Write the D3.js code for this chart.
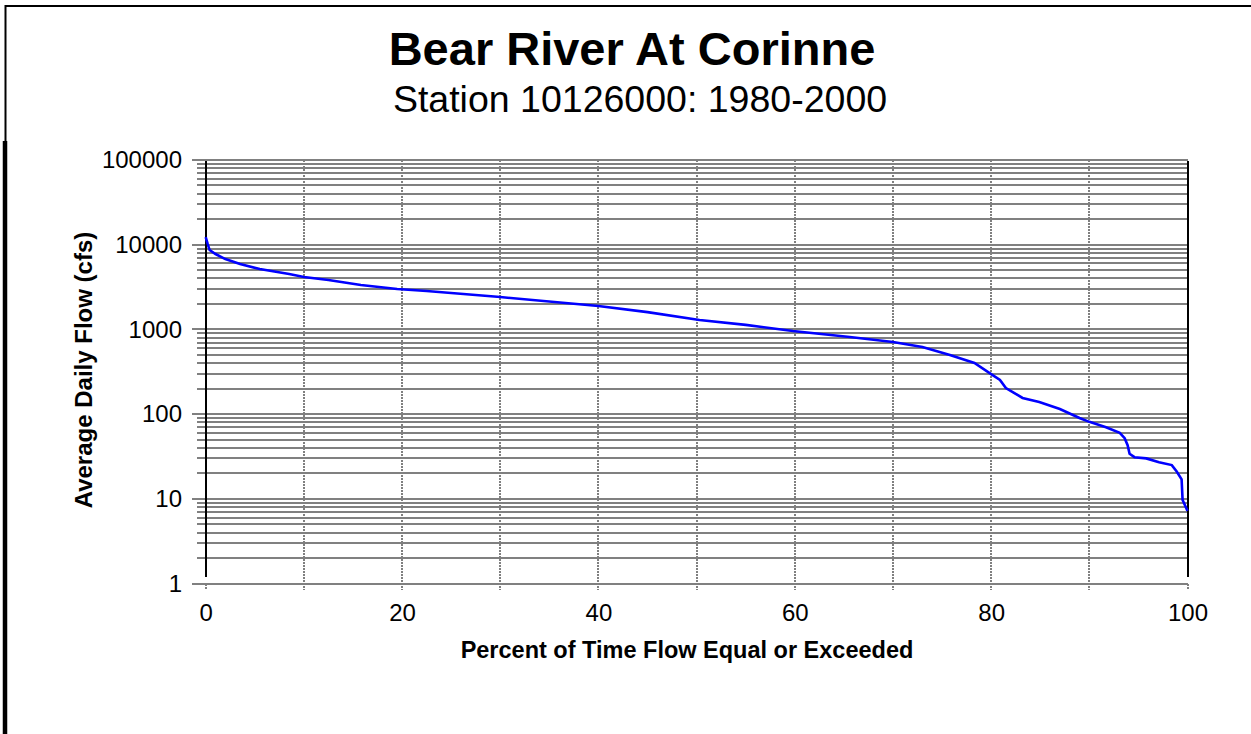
<!DOCTYPE html>
<html>
<head>
<meta charset="utf-8">
<script src="https://cdn.jsdelivr.net/npm/d3@7"></script>
<style>
  body { margin: 0; background: #fff; }
  text { font-family: Arial, "Liberation Sans", sans-serif; }
</style>
</head>
<body>
<div id="chart"></div>
<script>
// Flow duration curve
var percentExceeded = [0, 0.2, 0.4, 1.0, 2.0, 3.5, 5.5, 8.5, 10, 12.5, 15.8, 19.5, 22.5, 30, 40, 45,
  50.3, 55, 59.8, 65.6, 70, 73, 75.8, 78.3, 80, 80.9, 81.5, 82.2, 83.2, 84.9, 87, 89, 90, 91.7,
  93.1, 93.6, 93.9, 94.1, 94.6, 95.8, 97.1, 98.4, 98.9, 99.4, 99.5, 100];
var flowCfs = [12300, 10200, 8650, 7760, 6770, 5910, 5160, 4510, 4160, 3830, 3340, 3000, 2840, 2410, 1890, 1600,
  1290, 1130, 957, 813, 710, 620, 499, 402, 297, 253, 203, 182, 155, 139, 115, 90, 81, 70,
  60, 52, 43, 34, 31, 30, 27, 25, 21, 17, 9.7, 7.2];

var yTicks = [1, 10, 100, 1000, 10000, 100000];
var xTicks = [0, 20, 40, 60, 80, 100];
var xGrid = [10, 20, 30, 40, 50, 60, 70, 80, 90];

var titleText = "Bear River At Corinne";
var subtitleText = "Station 10126000: 1980-2000";
var xTitle = "Percent of Time Flow Equal or Exceeded";
var yTitle = "Average Daily Flow (cfs)";

var totalWidth = 1251, totalHeight = 734;
var plot = {left: 205.7, right: 1187.5, top: 160, bottom: 583.5};

var svg = d3.select("#chart").append("svg")
  .attr("width", totalWidth)
  .attr("height", totalHeight);

var x = d3.scaleLinear().domain([0, 100]).range([plot.left, plot.right]);
var y = d3.scaleLog().domain([1, 100000]).range([plot.bottom, plot.top]);

// outer frame (top + left edge)
svg.append("line").attr("x1", 5).attr("x2", totalWidth).attr("y1", 6).attr("y2", 6)
  .attr("stroke", "#000").attr("stroke-width", 2);
svg.append("line").attr("x1", 5.5).attr("x2", 5.5).attr("y1", 5).attr("y2", 141)
  .attr("stroke", "#000").attr("stroke-width", 2);
svg.append("line").attr("x1", 5).attr("x2", 5).attr("y1", 141).attr("y2", totalHeight)
  .attr("stroke", "#000").attr("stroke-width", 4.5);

// titles
svg.append("text")
  .attr("x", 632).attr("y", 65)
  .style("font-size", "47px").style("font-weight", "bold")
  .style("text-anchor", "middle")
  .text(titleText);
svg.append("text")
  .attr("x", 640).attr("y", 112)
  .style("font-size", "37.5px")
  .style("text-anchor", "middle")
  .text(subtitleText);

// horizontal grid: every 1..9 x decade
var minorVals = [];
for (var e = 0; e < 5; e++) {
  for (var m = 1; m < 10; m++) minorVals.push(m * Math.pow(10, e));
}
minorVals.push(100000);

svg.append("g").selectAll("line")
  .data(minorVals)
  .enter().append("line")
    .attr("x1", function(d) { return yTicks.indexOf(d) >= 0 ? 192 : 197; })
    .attr("x2", plot.right)
    .attr("y1", function(d) { return Math.round(y(d)); })
    .attr("y2", function(d) { return Math.round(y(d)); })
    .attr("stroke", "#808080")
    .attr("stroke-width", 2)
    .attr("shape-rendering", "crispEdges");

// vertical dashed grid + ticks
svg.append("g").selectAll("line")
  .data(xGrid)
  .enter().append("line")
    .attr("x1", function(d) { return Math.round(x(d)); })
    .attr("x2", function(d) { return Math.round(x(d)); })
    .attr("y1", plot.top)
    .attr("y2", 590)
    .attr("stroke", "#808080")
    .attr("stroke-width", 2)
    .attr("stroke-dasharray", "2,1")
    .attr("shape-rendering", "crispEdges");
svg.append("g").selectAll("line")
  .data([0, 100])
  .enter().append("line")
    .attr("x1", function(d) { return Math.round(x(d)); })
    .attr("x2", function(d) { return Math.round(x(d)); })
    .attr("y1", plot.bottom)
    .attr("y2", 590)
    .attr("stroke", "#808080")
    .attr("stroke-width", 2)
    .attr("stroke-dasharray", "2,1")
    .attr("shape-rendering", "crispEdges");

// black side lines of plot area
svg.append("g").selectAll("line")
  .data([0, 100])
  .enter().append("line")
    .attr("x1", function(d) { return Math.round(x(d)); })
    .attr("x2", function(d) { return Math.round(x(d)); })
    .attr("y1", plot.top + 1)
    .attr("y2", 577)
    .attr("stroke", "#000")
    .attr("stroke-width", 2)
    .attr("shape-rendering", "crispEdges");

// y axis labels
var yAxis = svg.append("g")
  .attr("transform", "translate(182,0)")
  .call(d3.axisLeft(y).tickValues(yTicks).tickSize(0).tickPadding(0).tickFormat(d3.format("d")));
yAxis.select(".domain").remove();
yAxis.selectAll("text")
  .style("font-size", "24px")
  .style("font-family", "Arial, 'Liberation Sans', sans-serif")
  .attr("fill", "#000");

// x axis labels
var xAxis = svg.append("g")
  .attr("transform", "translate(0,604)")
  .call(d3.axisBottom(x).tickValues(xTicks).tickSize(0).tickPadding(0));
xAxis.select(".domain").remove();
xAxis.selectAll("text")
  .style("font-size", "24px")
  .style("font-family", "Arial, 'Liberation Sans', sans-serif")
  .attr("fill", "#000");

// axis titles
svg.append("text")
  .attr("x", 687).attr("y", 658)
  .style("font-size", "23.5px").style("font-weight", "bold")
  .style("text-anchor", "middle")
  .text(xTitle);
svg.append("text")
  .attr("transform", "translate(92,370) rotate(-90)")
  .style("font-size", "24px").style("font-weight", "bold")
  .style("text-anchor", "middle")
  .text(yTitle);

// the curve
var pts = percentExceeded.map(function(p, i) { return [p, flowCfs[i]]; });
var line = d3.line()
  .x(function(d) { return x(d[0]); })
  .y(function(d) { return y(d[1]); });
svg.append("path")
  .datum(pts)
  .attr("d", line)
  .attr("fill", "none")
  .attr("stroke", "#0000ff")
  .attr("stroke-width", 2.6);
</script>
</body>
</html>
